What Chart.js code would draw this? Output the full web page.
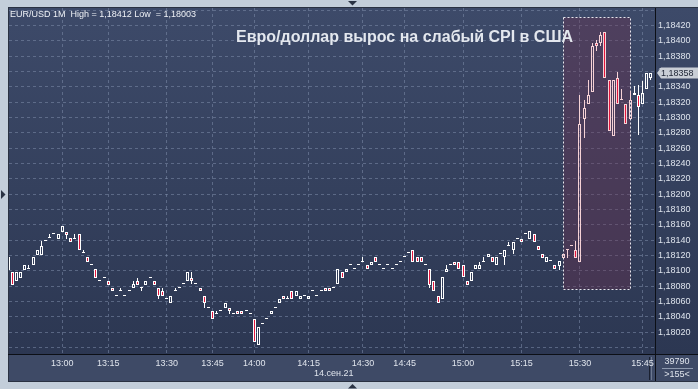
<!DOCTYPE html>
<html>
<head>
<meta charset="utf-8">
<script src="https://cdn.jsdelivr.net/npm/chart.js@4.4.0/dist/chart.umd.min.js"></script>
<style>
  html, body { margin: 0; padding: 0; background: #c3ceda; }
  canvas { display: block; }
</style>
</head>
<body>
<canvas id="eurusdChart" width="698" height="389"></canvas>
<script>
// EUR/USD, 1-minute bars, 14.09.21
const open = [
  1.18101, 1.18098, 1.18086, 1.18091, 1.18101, 1.18102, 1.18107, 1.18121, 1.18121, 1.18139,
  1.18143, 1.18148, 1.18142, 1.18151, 1.18151, 1.18143, 1.18142, 1.18148, 1.18123, 1.18118,
  1.18107, 1.18102, 1.18087, 1.18091, 1.18086, 1.18078, 1.18067, 1.18073, 1.18067, 1.18073,
  1.18078, 1.18086, 1.18078, 1.18082, 1.18091, 1.18086, 1.18078, 1.18073, 1.18063, 1.18058,
  1.18073, 1.18078, 1.18083, 1.18087, 1.18091, 1.18083, 1.18078, 1.18067, 1.18052, 1.18048,
  1.18044, 1.18048, 1.18052, 1.18052, 1.18044, 1.18048, 1.18048, 1.18048, 1.18044, 1.18037,
  1.18003, 1.18031, 1.18037, 1.18044, 1.18052, 1.18058, 1.18067, 1.18063, 1.18073, 1.18067,
  1.18063, 1.18067, 1.18063, 1.18073, 1.18067, 1.18073, 1.18078, 1.18078, 1.18078, 1.18083,
  1.18098, 1.18098, 1.18107, 1.18102, 1.18107, 1.18112, 1.18107, 1.18107, 1.18118, 1.18107,
  1.18102, 1.18107, 1.18102, 1.18107, 1.18112, 1.18118, 1.18123, 1.18127, 1.18118, 1.18118,
  1.18107, 1.18102, 1.18087, 1.18067, 1.18063, 1.18098, 1.18107, 1.18112, 1.18112, 1.18107,
  1.18087, 1.18087, 1.18102, 1.18102, 1.18112, 1.18118, 1.18118, 1.18107, 1.18122, 1.18118,
  1.18132, 1.18127, 1.18142, 1.18142, 1.18148, 1.18142, 1.18148, 1.18132, 1.18122, 1.18112,
  1.18113, 1.18108, 1.18106, 1.18117, 1.18127, 1.18132, 1.18127, 1.18112, 1.18298, 1.18317,
  1.18333, 1.18397, 1.18397, 1.18412, 1.18349, 1.18276, 1.18352, 1.18323, 1.18317, 1.18298,
  1.18329, 1.18329, 1.18317, 1.18337, 1.18351
];
const high = [
  1.18118, 1.18098, 1.18098, 1.18098, 1.18107, 1.18107, 1.18118, 1.18127, 1.18139, 1.18139,
  1.18148, 1.18148, 1.18148, 1.18158, 1.18151, 1.18143, 1.18148, 1.18148, 1.18127, 1.18118,
  1.18107, 1.18102, 1.18087, 1.18091, 1.18086, 1.18078, 1.18067, 1.18078, 1.18067, 1.18073,
  1.18086, 1.18091, 1.18078, 1.18086, 1.18091, 1.18086, 1.18078, 1.18078, 1.18063, 1.18067,
  1.18078, 1.18078, 1.18083, 1.18098, 1.18098, 1.18083, 1.18078, 1.18067, 1.18052, 1.18048,
  1.18048, 1.18048, 1.18058, 1.18052, 1.18044, 1.18048, 1.18048, 1.18048, 1.18044, 1.18037,
  1.18026, 1.18031, 1.18037, 1.18048, 1.18052, 1.18063, 1.18067, 1.18067, 1.18073, 1.18073,
  1.18067, 1.18067, 1.18067, 1.18073, 1.18067, 1.18073, 1.18078, 1.18078, 1.18078, 1.18102,
  1.18098, 1.18102, 1.18107, 1.18102, 1.18107, 1.18118, 1.18107, 1.18112, 1.18118, 1.18107,
  1.18102, 1.18107, 1.18102, 1.18107, 1.18112, 1.18118, 1.18123, 1.18127, 1.18118, 1.18118,
  1.18107, 1.18102, 1.18087, 1.18067, 1.18092, 1.18107, 1.18107, 1.18112, 1.18112, 1.18107,
  1.18087, 1.18098, 1.18107, 1.18112, 1.18118, 1.18122, 1.18118, 1.18118, 1.18122, 1.18127,
  1.18138, 1.18138, 1.18142, 1.18142, 1.18148, 1.18152, 1.18148, 1.18132, 1.18122, 1.18118,
  1.18113, 1.18108, 1.18113, 1.18122, 1.18127, 1.18132, 1.18139, 1.18329, 1.18323, 1.18349,
  1.18397, 1.18401, 1.18412, 1.18412, 1.18349, 1.18349, 1.18359, 1.18337, 1.18317, 1.18334,
  1.18341, 1.18342, 1.18348, 1.18358, 1.18358
];
const low = [
  1.18101, 1.18082, 1.18086, 1.18091, 1.18101, 1.18102, 1.18107, 1.18121, 1.18121, 1.18139,
  1.18143, 1.18148, 1.18142, 1.18151, 1.18142, 1.18138, 1.18142, 1.18127, 1.18123, 1.18112,
  1.18107, 1.18091, 1.18087, 1.18091, 1.18082, 1.18073, 1.18067, 1.18073, 1.18067, 1.18073,
  1.18078, 1.18082, 1.18073, 1.18082, 1.18091, 1.18082, 1.18063, 1.18067, 1.18063, 1.18058,
  1.18073, 1.18078, 1.18083, 1.18087, 1.18083, 1.18083, 1.18073, 1.18052, 1.18052, 1.18037,
  1.18044, 1.18048, 1.18052, 1.18044, 1.18044, 1.18044, 1.18044, 1.18048, 1.18044, 1.18007,
  1.18003, 1.18031, 1.18037, 1.18044, 1.18052, 1.18058, 1.18063, 1.18063, 1.18063, 1.18067,
  1.18063, 1.18067, 1.18063, 1.18073, 1.18067, 1.18073, 1.18073, 1.18073, 1.18078, 1.18083,
  1.18091, 1.18098, 1.18107, 1.18102, 1.18107, 1.18112, 1.18102, 1.18107, 1.18112, 1.18107,
  1.18102, 1.18107, 1.18102, 1.18107, 1.18112, 1.18118, 1.18123, 1.18112, 1.18112, 1.18112,
  1.18107, 1.18078, 1.18073, 1.18058, 1.18063, 1.18098, 1.18107, 1.18107, 1.18102, 1.18092,
  1.18082, 1.18087, 1.18102, 1.18102, 1.18112, 1.18118, 1.18112, 1.18107, 1.18122, 1.18107,
  1.18132, 1.18122, 1.18142, 1.18138, 1.18148, 1.18142, 1.18138, 1.18127, 1.18117, 1.18112,
  1.18113, 1.18102, 1.18101, 1.18117, 1.18117, 1.18132, 1.18117, 1.18112, 1.18273, 1.18317,
  1.18333, 1.18387, 1.18393, 1.18352, 1.18282, 1.18276, 1.18317, 1.18323, 1.18292, 1.18298,
  1.18329, 1.18277, 1.18317, 1.18337, 1.18349
];
const close = [
  1.18118, 1.18082, 1.18098, 1.18098, 1.18107, 1.18102, 1.18118, 1.18127, 1.18132, 1.18139,
  1.18143, 1.18148, 1.18148, 1.18158, 1.18147, 1.18138, 1.18142, 1.18127, 1.18123, 1.18112,
  1.18107, 1.18091, 1.18087, 1.18091, 1.18082, 1.18073, 1.18067, 1.18073, 1.18067, 1.18073,
  1.18083, 1.18082, 1.18078, 1.18086, 1.18091, 1.18082, 1.18067, 1.18067, 1.18063, 1.18067,
  1.18073, 1.18078, 1.18083, 1.18098, 1.18086, 1.18083, 1.18073, 1.18058, 1.18052, 1.18037,
  1.18044, 1.18048, 1.18058, 1.18048, 1.18044, 1.18044, 1.18044, 1.18048, 1.18044, 1.18007,
  1.18026, 1.18031, 1.18037, 1.18048, 1.18052, 1.18063, 1.18063, 1.18063, 1.18063, 1.18073,
  1.18067, 1.18067, 1.18067, 1.18073, 1.18067, 1.18073, 1.18073, 1.18073, 1.18078, 1.18102,
  1.18091, 1.18102, 1.18107, 1.18102, 1.18107, 1.18112, 1.18102, 1.18112, 1.18112, 1.18107,
  1.18102, 1.18107, 1.18102, 1.18107, 1.18112, 1.18118, 1.18123, 1.18112, 1.18112, 1.18112,
  1.18107, 1.18082, 1.18073, 1.18058, 1.18092, 1.18102, 1.18107, 1.18107, 1.18102, 1.18092,
  1.18082, 1.18098, 1.18107, 1.18107, 1.18112, 1.18122, 1.18112, 1.18118, 1.18122, 1.18127,
  1.18132, 1.18138, 1.18142, 1.18138, 1.18148, 1.18152, 1.18138, 1.18127, 1.18117, 1.18118,
  1.18113, 1.18102, 1.18113, 1.18122, 1.18127, 1.18132, 1.18117, 1.18292, 1.18312, 1.18329,
  1.18393, 1.18393, 1.18408, 1.18352, 1.18282, 1.18349, 1.18317, 1.18323, 1.18292, 1.18323,
  1.18332, 1.18313, 1.18332, 1.18358, 1.18358
];

// time axis: labelled minutes and the bar each one falls on
const timeTicks = ['13:00', '13:15', '13:30', '13:45', '14:00', '14:15', '14:30', '14:45', '15:00', '15:15', '15:30', '15:45'];
const timeTickBars = [13, 24, 38, 49, 59, 72, 85, 95, 109, 123, 137, 152];
const dateLabel = '14.сен.21';
const dateLabelBar = 78;

// price axis gridlines (outermost two carry no label)
const priceTicks = [
  1.18000, 1.18020, 1.18040, 1.18060, 1.18080, 1.18100, 1.18120, 1.18140, 1.18160, 1.18180,
  1.18200, 1.18220, 1.18240, 1.18260, 1.18280, 1.18300, 1.18320, 1.18340, 1.18360, 1.18380,
  1.18400, 1.18420, 1.18440
];

// highlighted zone around the US CPI release
const zoneBars = [133, 149];
const zonePrices = [1.18076, 1.18431];

const title = 'EUR/USD 1M  High = 1,18412 Low  = 1,18003';
const headline = 'Евро/доллар вырос на слабый CPI в США';
const volumeText = '39790';

const fmtPrice = v => v.toFixed(5).replace('.', ',');
const inZone = i => i >= zoneBars[0] && i <= zoneBars[1];
const edgeColor = i => inZone(i) ? '#f6d2d6' : '#ffffff';

const bodyData = open.map((o, i) => ({ x: i, y: [o, close[i]] }));
const upperWick = [];
const lowerWick = [];
open.forEach((o, i) => {
  const top = Math.max(o, close[i]);
  const bottom = Math.min(o, close[i]);
  if (high[i] > top) upperWick.push({ x: i, y: [top, high[i]] });
  if (low[i] < bottom) lowerWick.push({ x: i, y: [low[i], bottom] });
});

const font = { family: 'Liberation Sans', size: 9 };

// panel background, zone box, pixel snapping and the terminal texts
const terminal = {
  id: 'terminal',
  beforeDraw(chart) {
    const { ctx, chartArea: a, width, height } = chart;
    ctx.save();
    ctx.fillStyle = '#c3ceda';
    ctx.fillRect(0, 0, width, height);
    const g = ctx.createLinearGradient(0, a.top, 0, a.bottom);
    g.addColorStop(0, '#3d4a69');
    g.addColorStop(1, '#2c3752');
    ctx.fillStyle = g;
    ctx.fillRect(8, 7, width - 8, a.bottom - 7);
    ctx.fillStyle = '#3e4a66';
    ctx.fillRect(8, a.bottom, width - 8, 27);
    ctx.strokeStyle = '#2a3242';
    ctx.lineWidth = 1;
    ctx.strokeRect(8.5, 7.5, width, a.bottom + 27 - 7);
    ctx.strokeStyle = '#0c0f16';
    ctx.beginPath();
    ctx.moveTo(a.right + 0.5, 8);
    ctx.lineTo(a.right + 0.5, a.bottom + 27);
    ctx.moveTo(8, a.bottom + 0.5);
    ctx.lineTo(width, a.bottom + 0.5);
    ctx.stroke();
    ctx.strokeStyle = '#1a2030';
    ctx.beginPath();
    ctx.moveTo(649.5, a.bottom + 3);
    ctx.lineTo(649.5, a.bottom + 26);
    ctx.stroke();
    ctx.strokeStyle = '#6c7890';
    ctx.beginPath();
    ctx.moveTo(651.5, a.bottom + 3);
    ctx.lineTo(651.5, a.bottom + 26);
    ctx.stroke();
    ctx.restore();
  },
  beforeDatasetsDraw(chart) {
    const { ctx, scales: { x, y } } = chart;
    const x1 = Math.round(x.getPixelForValue(zoneBars[0])) + 0.5;
    const x2 = Math.round(x.getPixelForValue(zoneBars[1])) + 0.5;
    const y1 = Math.round(y.getPixelForValue(zonePrices[1])) + 0.5;
    const y2 = Math.round(y.getPixelForValue(zonePrices[0])) + 0.5;
    ctx.save();
    ctx.fillStyle = 'rgba(112, 46, 78, 0.36)';
    ctx.fillRect(x1, y1, x2 - x1, y2 - y1);
    ctx.strokeStyle = '#e8e8ee';
    ctx.lineWidth = 1;
    ctx.setLineDash([2, 2]);
    ctx.strokeRect(x1, y1, x2 - x1, y2 - y1);
    ctx.restore();
    chart.data.datasets.forEach((d, k) => {
      chart.getDatasetMeta(k).data.forEach(el => {
        el.x = Math.floor(el.x) + 0.5;
        el.y = Math.round(el.y);
        el.base = Math.round(el.base);
      });
    });
  },
  afterDraw(chart) {
    const { ctx, chartArea: a, scales: { x, y }, width } = chart;
    ctx.save();
    ctx.font = '9px "Liberation Sans"';
    ctx.textBaseline = 'middle';
    ctx.fillStyle = '#eef1f6';
    ctx.fillText(title, 10, 15);

    ctx.font = 'bold 16px "Liberation Sans"';
    ctx.fillStyle = '#e3e7ee';
    ctx.fillText(headline, 236, 38);

    ctx.font = '9px "Liberation Sans"';
    ctx.textAlign = 'center';
    ctx.fillStyle = '#dfe4ec';
    ctx.fillText(dateLabel, x.getPixelForValue(dateLabelBar), a.bottom + 20);
    ctx.fillText(volumeText, 677, a.bottom + 8);
    ctx.fillText('>' + open.length + '<', 677, a.bottom + 21);
    ctx.strokeStyle = '#8d99ae';
    ctx.beginPath();
    ctx.moveTo(662, a.bottom + 14.5);
    ctx.lineTo(693, a.bottom + 14.5);
    ctx.stroke();

    // last price tag
    const last = close[close.length - 1];
    const py = Math.round(y.getPixelForValue(last));
    ctx.fillStyle = '#c9ced6';
    ctx.beginPath();
    ctx.moveTo(a.right + 2, py);
    ctx.lineTo(a.right + 6, py - 5.5);
    ctx.lineTo(width, py - 5.5);
    ctx.lineTo(width, py + 5.5);
    ctx.lineTo(a.right + 6, py + 5.5);
    ctx.closePath();
    ctx.fill();
    ctx.textAlign = 'left';
    ctx.fillStyle = '#1d2434';
    ctx.fillText(fmtPrice(last), a.right + 6, py + 0.5);

    // frame arrows
    ctx.fillStyle = '#2a3344';
    [[[348, 1], [357, 1], [352.5, 5.5]], [[348, 388.5], [357, 388.5], [352.5, 384]], [[1, 190], [1, 199], [5.5, 194.5]]]
      .forEach(pts => {
        ctx.beginPath();
        ctx.moveTo(pts[0][0], pts[0][1]);
        ctx.lineTo(pts[1][0], pts[1][1]);
        ctx.lineTo(pts[2][0], pts[2][1]);
        ctx.closePath();
        ctx.fill();
      });
    ctx.restore();
  }
};

new Chart(document.getElementById('eurusdChart'), {
  type: 'bar',
  data: {
    datasets: [
      {
        data: bodyData,
        grouped: false,
        clip: 0,
        barThickness: 3,
        minBarLength: 1,
        borderWidth: 1,
        borderSkipped: false,
        inflateAmount: 0,
        borderColor: c => edgeColor(c.dataIndex),
        backgroundColor: c => {
          const i = c.dataIndex;
          if (close[i] < open[i]) return '#e3163d';
          if (close[i] > open[i]) return 'rgba(0,0,0,0)';
          return edgeColor(i);
        }
      },
      {
        data: upperWick,
        grouped: false,
        clip: 0,
        barThickness: 1,
        borderWidth: 0,
        inflateAmount: 0,
        backgroundColor: c => edgeColor(c.raw ? c.raw.x : 0)
      },
      {
        data: lowerWick,
        grouped: false,
        clip: 0,
        barThickness: 1,
        borderWidth: 0,
        inflateAmount: 0,
        backgroundColor: c => edgeColor(c.raw ? c.raw.x : 0)
      }
    ]
  },
  options: {
    responsive: false,
    animation: false,
    layout: { padding: { left: 9, top: 8, right: 0, bottom: 8 } },
    plugins: {
      legend: { display: false },
      tooltip: { enabled: false }
    },
    scales: {
      x: {
        type: 'linear',
        min: 0.22,
        max: 154.98,
        offset: false,
        afterBuildTicks: s => { s.ticks = timeTickBars.map(v => ({ value: v })); },
        afterFit: s => {
          s.height = 27;
          s.paddingLeft = 0;
          s.paddingRight = 0;
        },
        ticks: {
          autoSkip: false,
          maxRotation: 0,
          padding: 4,
          color: '#dfe4ec',
          font,
          callback: (v, i) => timeTicks[i]
        },
        grid: { color: 'rgba(125, 140, 170, 0.55)', drawTicks: false, offset: false },
        border: { display: false, dash: [3, 3] }
      },
      y: {
        position: 'right',
        min: 1.179914,
        max: 1.184428,
        afterBuildTicks: s => { s.ticks = priceTicks.map(v => ({ value: v })); },
        afterFit: s => {
          s.width = 43;
          s.paddingTop = 0;
          s.paddingBottom = 0;
        },
        ticks: {
          padding: 3,
          color: '#dde3ec',
          font,
          callback: (v, i) => (i === 0 || i === priceTicks.length - 1) ? '' : fmtPrice(v)
        },
        grid: { color: 'rgba(125, 140, 170, 0.55)', drawTicks: false },
        border: { display: false, dash: [3, 3] }
      }
    }
  },
  plugins: [terminal]
});
</script>
</body>
</html>
